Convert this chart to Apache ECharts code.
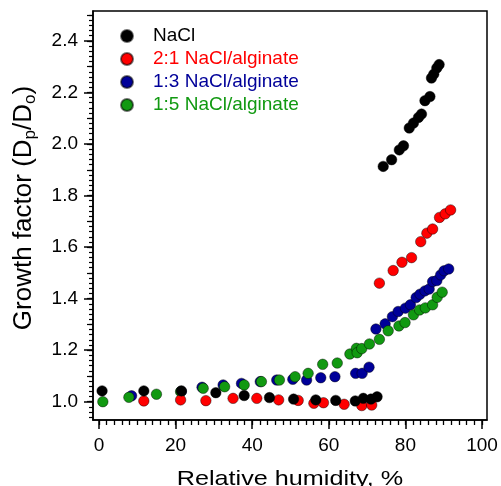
<!DOCTYPE html>
<html>
<head>
<meta charset="utf-8">
<script src="https://cdn.jsdelivr.net/npm/echarts@6/dist/echarts.min.js"></script>
<style>html,body{margin:0;padding:0;background:#fff}#c{width:501px;height:486px}</style>
</head>
<body>
<div id="c"></div>
<script>
// Series names
var seriesNames = ['NaCl', '2:1 NaCl/alginate', '1:3 NaCl/alginate', '1:5 NaCl/alginate'];
// NaCl: [RH %, growth factor]
var naclData = [[0.8,1.042],[11.7,1.042],[21.5,1.042],[30.5,1.035],[37.9,1.024],[44.5,1.016],[50.8,1.010],[56.6,1.007],[61.8,1.005],[66.9,1.003],[69.0,1.013],[71.0,1.010],[72.6,1.019],
  [74.2,1.913],[76.4,1.939],[78.4,1.977],[79.5,1.993],[81.0,2.062],[82.1,2.081],[83.4,2.103],[84.2,2.116],[85.1,2.168],[86.4,2.184],[86.8,2.256],[87.4,2.271],[88.2,2.295],[88.8,2.308]];
var ratio21Data = [[11.7,1.003],[21.3,1.007],[27.9,1.004],[35.0,1.013],[41.2,1.013],[46.9,1.007],[52.0,1.005],[56.1,0.994],[58.6,0.996],[64.0,0.990],[68.6,0.985],[71.2,0.987],
  [73.2,1.460],[76.8,1.509],[79.1,1.541],[81.6,1.559],[84.0,1.621],[85.6,1.654],[87.1,1.670],[88.9,1.715],[90.4,1.729],[91.8,1.744]];
var ratio13Data = [[8.5,1.023],[21.5,1.040],[26.9,1.056],[32.4,1.065],[37.2,1.071],[42.1,1.078],[46.4,1.084],[50.6,1.087],[54.2,1.084],[57.9,1.093],[61.6,1.097],[67.0,1.110],[68.7,1.110],[70.5,1.134],
  [72.3,1.282],[74.7,1.302],[76.6,1.330],[78.1,1.350],[80.0,1.363],[81.3,1.376],[82.8,1.404],[83.8,1.417],[85.1,1.430],[86.2,1.437],[87.1,1.466],[88.2,1.470],[89.2,1.492],[90.1,1.508],[91.3,1.515]];
var ratio15Data = [[1.0,1.000],[7.8,1.017],[15.0,1.029],[21.3,1.039],[27.2,1.052],[32.8,1.058],[37.9,1.065],[42.4,1.078],[47.1,1.084],[51.2,1.097],[54.6,1.110],[58.4,1.145],[62.2,1.150],[65.5,1.185],[67.2,1.207],[67.4,1.190],[68.6,1.206],[70.6,1.224],
  [73.2,1.242],[75.5,1.275],[78.3,1.294],[79.9,1.307],[82.1,1.337],[83.7,1.356],[85.2,1.364],[87.1,1.376],[88.3,1.405],[89.6,1.425]];
// Tick labels
var xTickLabels = [0, 20, 40, 60, 80, 100];
var yTickLabels = [1.0, 1.2, 1.4, 1.6, 1.8, 2.0, 2.2, 2.4];

var colors = ['#000000', '#ff0000', '#000099', '#119911'];

var xMin = -1.57, xMax = 101.3, yMin = 0.929, yMax = 2.516;
var xMinor = []; for (var i = 0; i <= 100; i += 2) xMinor.push(i);
var yMinor = []; for (var j = 94; j <= 250; j += 2) yMinor.push(j / 100);
var yMid = []; for (var k = 10; k <= 25; k += 1) yMid.push(k / 10);

var font = 'Arial, "Liberation Sans", sans-serif';
var chart = echarts.init(document.getElementById('c'), null, {renderer: 'canvas'});

function mkSeries(name, data, color) {
  return {
    name: name, type: 'scatter', data: data, symbol: 'circle', symbolSize: 10.5,
    itemStyle: {color: color, borderColor: 'rgba(0,0,0,0.55)', borderWidth: 0.8, opacity: 1},
    emphasis: {disabled: true}
  };
}

chart.setOption({
  animation: false,
  backgroundColor: '#fff',
  grid: {left: 93, right: 14, top: 11, bottom: 66, show: true, borderColor: '#000', borderWidth: 1.5, containLabel: false},
  legend: {
    orient: 'vertical', left: 115, top: 21.5, itemGap: 4, itemWidth: 42, itemHeight: 12,
    icon: 'circle', selectedMode: false,
    textStyle: {fontFamily: font, fontSize: 19, padding: [0, 0, 0, 0]},
    data: seriesNames.map(function (n, i) { return {name: n, textStyle: {color: colors[i]}}; })
  },
  xAxis: [
    {type: 'value', min: xMin, max: xMax, position: 'bottom',
      axisLine: {show: true, onZero: false, lineStyle: {color: '#000', width: 1.5}},
      axisTick: {show: true, length: 9, customValues: xTickLabels, lineStyle: {color: '#000', width: 1.5}},
      axisLabel: {customValues: xTickLabels, fontFamily: font, fontSize: 19, color: '#000', margin: 16},
      splitLine: {show: false}},
    {type: 'value', min: xMin, max: xMax, position: 'bottom',
      axisLine: {show: false, onZero: false},
      axisTick: {show: true, length: 5, customValues: xMinor, lineStyle: {color: '#000', width: 1.3}},
      axisLabel: {show: false}, splitLine: {show: false}}
  ],
  yAxis: [
    {type: 'value', min: yMin, max: yMax, position: 'left',
      axisLine: {show: true, onZero: false, lineStyle: {color: '#000', width: 1.5}},
      axisTick: {show: true, length: 9, customValues: yTickLabels, lineStyle: {color: '#000', width: 1.5}},
      axisLabel: {customValues: yTickLabels, fontFamily: font, fontSize: 19, color: '#000', margin: 15,
        formatter: function (v) { return v.toFixed(1); }},
      splitLine: {show: false}},
    {type: 'value', min: yMin, max: yMax, position: 'left',
      axisLine: {show: false, onZero: false},
      axisTick: {show: true, length: 4, customValues: yMinor, lineStyle: {color: '#000', width: 1.2}},
      axisLabel: {show: false}, splitLine: {show: false}},
    {type: 'value', min: yMin, max: yMax, position: 'left',
      axisLine: {show: false, onZero: false},
      axisTick: {show: true, length: 6, customValues: yMid, lineStyle: {color: '#000', width: 1.2}},
      axisLabel: {show: false}, splitLine: {show: false}}
  ],
  graphic: [
    {type: 'text', x: 290, y: 479, scaleX: 1.2,
      style: {text: 'Relative humidity, %', fontFamily: font, fontSize: 21, fill: '#000', align: 'center', verticalAlign: 'middle'}},
    {type: 'text', x: 24, y: 208, rotation: Math.PI / 2,
      style: {text: '{m|Growth factor (D}{s|p}{m|/D}{s|o}{m|)}', fill: '#000', align: 'center', verticalAlign: 'middle',
        rich: {m: {fontFamily: font, fontSize: 26, lineHeight: 26, fill: '#000'},
               s: {fontFamily: font, fontSize: 17, lineHeight: 17, padding: [12, 0, 0, 0], fill: '#000'}}}}
  ],
  series: [
    mkSeries(seriesNames[2], ratio13Data, colors[2]),
    mkSeries(seriesNames[3], ratio15Data, colors[3]),
    mkSeries(seriesNames[1], ratio21Data, colors[1]),
    mkSeries(seriesNames[0], naclData, colors[0])
  ]
});
</script>
</body>
</html>
